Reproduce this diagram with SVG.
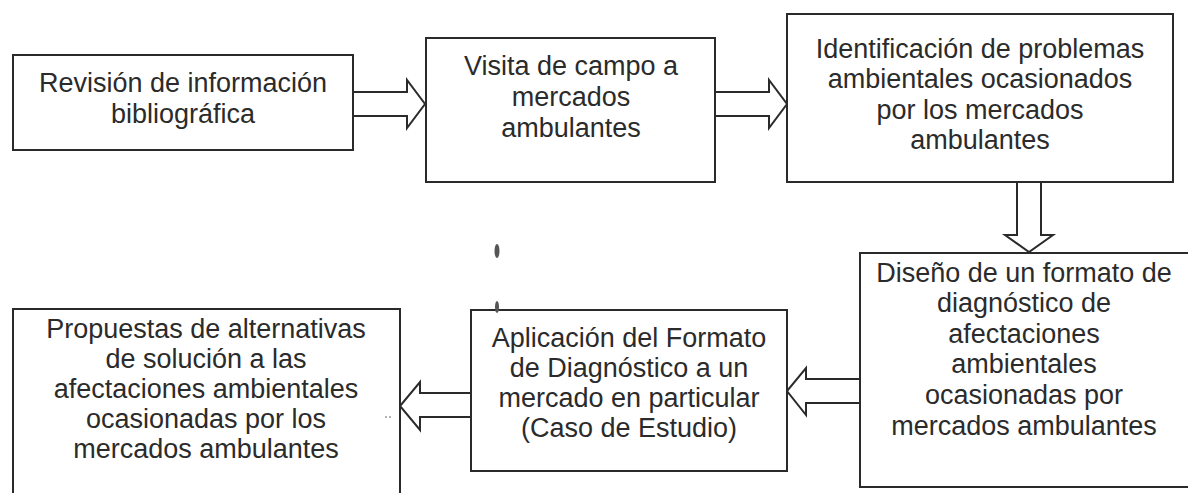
<svg xmlns="http://www.w3.org/2000/svg" width="1188" height="493" viewBox="0 0 1188 493">
<style>
.box{fill:#fff;stroke:#2a2a2a;stroke-width:2}
.arr{fill:#fff;stroke:#2a2a2a;stroke-width:2;stroke-linejoin:miter}
.t{font-family:"Liberation Sans",Arial,sans-serif;font-size:27px;fill:#2b2b2b;text-anchor:middle}
</style>
<rect width="1188" height="493" fill="#fff"/>
<g id="connectors">
<path class="arr" d="M353,92 H407 V80 L425,104 L407,128 V116 H353"/>
<path class="arr" d="M715,92 H769 V80 L787,104 L769,128 V116 H715"/>
<path class="arr" d="M1017,182 V235 H1005 L1029,252 L1053,235 H1041 V182"/>
<path class="arr" d="M860,379 H806 V368 L787,391 L806,415 V403 H860"/>
<path class="arr" d="M471,393 H420 V382 L400,406 L420,430 V417 H471"/>
</g>
<g id="n1">
<rect class="box" x="13" y="55" width="340" height="95"/>
<text class="t" x="183" y="92">Revisión de información</text>
<text class="t" x="183" y="123">bibliográfica</text>
</g>
<g id="n2">
<rect class="box" x="426" y="38" width="289" height="144"/>
<text class="t" x="571" y="75">Visita de campo a</text>
<text class="t" x="571" y="106">mercados</text>
<text class="t" x="571" y="137">ambulantes</text>
</g>
<g id="n3">
<rect class="box" x="787" y="14" width="386" height="168"/>
<text class="t" x="980" y="58">Identificación de problemas</text>
<text class="t" x="980" y="88">ambientales ocasionados</text>
<text class="t" x="980" y="119">por los mercados</text>
<text class="t" x="980" y="149">ambulantes</text>
</g>
<g id="n4">
<rect class="box" x="860" y="253" width="332" height="234"/>
<text class="t" x="1024" y="282">Diseño de un formato de</text>
<text class="t" x="1024" y="312">diagnóstico de</text>
<text class="t" x="1024" y="343">afectaciones</text>
<text class="t" x="1024" y="373">ambientales</text>
<text class="t" x="1024" y="404">ocasionadas por</text>
<text class="t" x="1024" y="435">mercados ambulantes</text>
</g>
<g id="n5">
<rect class="box" x="471" y="310" width="316" height="161"/>
<text class="t" x="629" y="347">Aplicación del Formato</text>
<text class="t" x="629" y="377">de Diagnóstico a un</text>
<text class="t" x="629" y="407">mercado en particular</text>
<text class="t" x="629" y="437">(Caso de Estudio)</text>
</g>
<g id="n6">
<rect class="box" x="13" y="309" width="387" height="200"/>
<text class="t" x="206" y="338">Propuestas de alternativas</text>
<text class="t" x="206" y="368">de solución a las</text>
<text class="t" x="206" y="398">afectaciones ambientales</text>
<text class="t" x="206" y="428">ocasionadas por los</text>
<text class="t" x="206" y="458">mercados ambulantes</text>
</g>
<g id="specks" fill="#555">
<ellipse cx="497" cy="251" rx="2.5" ry="7"/>
<ellipse cx="497" cy="307" rx="2" ry="6"/>
<circle cx="386" cy="417" r="0.8"/>
<circle cx="390" cy="417" r="0.8"/>
</g>
</svg>
